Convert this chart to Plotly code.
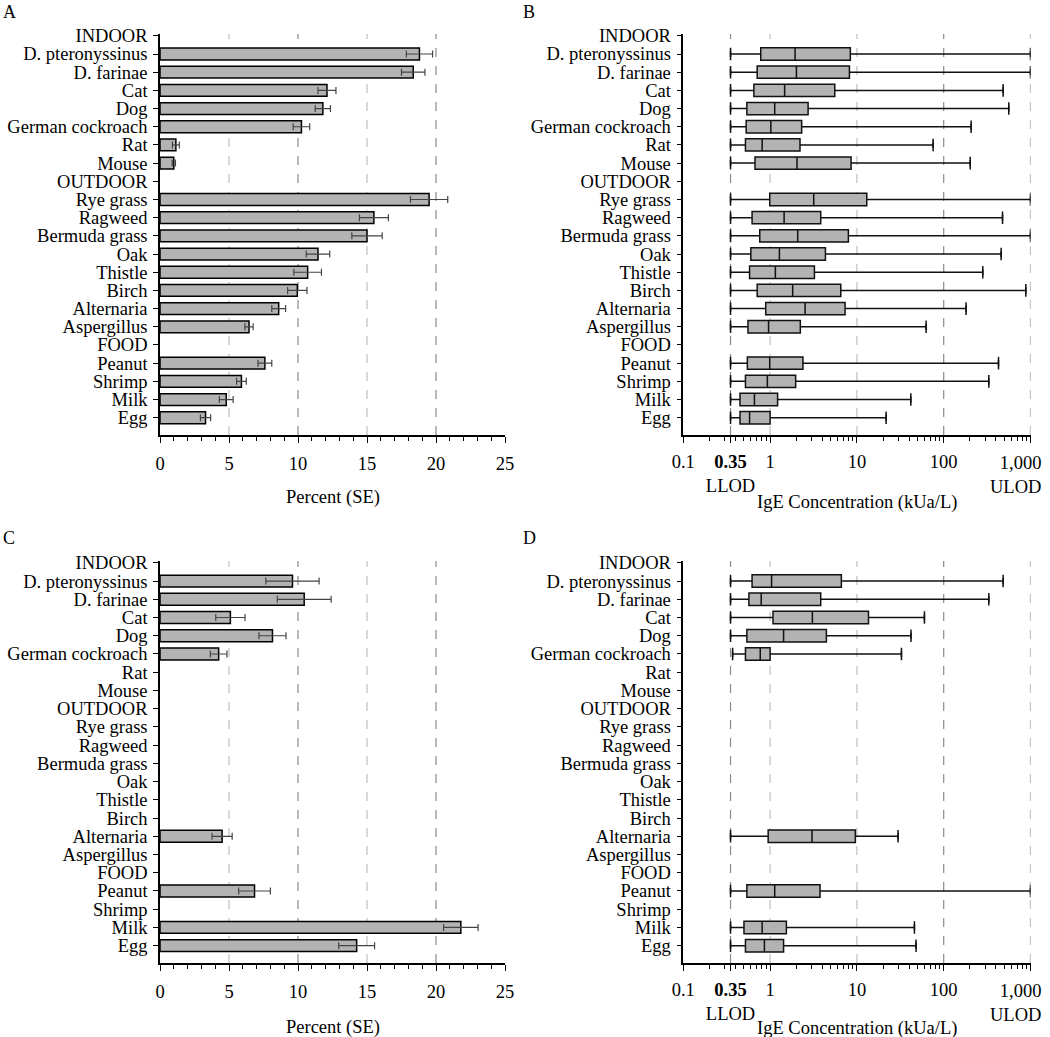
import math
import plotly.graph_objects as go

# ---------------- data ----------------
cats = ["INDOOR", "D. pteronyssinus", "D. farinae", "Cat", "Dog", "German cockroach",
        "Rat", "Mouse", "OUTDOOR", "Rye grass", "Ragweed", "Bermuda grass", "Oak",
        "Thistle", "Birch", "Alternaria", "Aspergillus", "FOOD", "Peanut", "Shrimp",
        "Milk", "Egg"]

allergens = ["D. pteronyssinus", "D. farinae", "Cat", "Dog", "German cockroach", "Rat",
             "Mouse", "Rye grass", "Ragweed", "Bermuda grass", "Oak", "Thistle", "Birch",
             "Alternaria", "Aspergillus", "Peanut", "Shrimp", "Milk", "Egg"]

# Panel A: percent sensitized (SE)
A_pct = [18.8, 18.35, 12.1, 11.8, 10.25, 1.15, 1.0, 19.5, 15.5, 15.0, 11.45, 10.7,
         9.95, 8.6, 6.45, 7.6, 5.9, 4.8, 3.3]
A_se = [0.95, 0.85, 0.65, 0.55, 0.6, 0.25, 0.12, 1.35, 1.05, 1.1, 0.85, 1.0, 0.7,
        0.5, 0.3, 0.5, 0.35, 0.5, 0.37]

# Panel B: IgE concentration distributions
B_lo = [0.35] * 19
B_q1 = [0.78, 0.71, 0.65, 0.54, 0.53, 0.52, 0.67, 0.99, 0.62, 0.76, 0.60, 0.58, 0.71,
        0.89, 0.556, 0.547, 0.52, 0.45, 0.45]
B_med = [1.94, 2.01, 1.47, 1.13, 1.02, 0.81, 2.04, 3.18, 1.45, 2.08, 1.28, 1.15, 1.82,
         2.53, 0.96, 0.99, 0.93, 0.66, 0.58]
B_q3 = [8.4, 8.2, 5.56, 2.74, 2.31, 2.21, 8.57, 13.0, 3.83, 7.98, 4.34, 3.24, 6.52,
        7.31, 2.23, 2.39, 1.97, 1.22, 1.0]
B_hi = [1000, 1000, 484, 562, 207, 75.5, 202, 1000, 476, 1000, 459, 282, 883, 181,
        62.7, 428, 331, 41.8, 21.7]

# Panel C
C_names = ["D. pteronyssinus", "D. farinae", "Cat", "Dog", "German cockroach",
           "Alternaria", "Peanut", "Milk", "Egg"]
C_pct = [9.6, 10.45, 5.1, 8.15, 4.25, 4.5, 6.85, 21.8, 14.25]
C_se = [1.93, 1.95, 1.06, 0.98, 0.6, 0.73, 1.15, 1.25, 1.3]

# Panel D
D_names = ["D. pteronyssinus", "D. farinae", "Cat", "Dog", "German cockroach",
           "Alternaria", "Peanut", "Milk", "Egg"]
D_lo = [0.35, 0.35, 0.35, 0.35, 0.37, 0.35, 0.35, 0.35, 0.35]
D_q1 = [0.62, 0.57, 1.08, 0.54, 0.52, 0.95, 0.54, 0.50, 0.52]
D_med = [1.04, 0.79, 3.07, 1.43, 0.77, 3.04, 1.13, 0.81, 0.86]
D_q3 = [6.62, 3.83, 13.6, 4.45, 1.0, 9.6, 3.76, 1.54, 1.43]
D_hi = [484, 331, 60, 42, 32.6, 29.8, 1000, 46, 48]

pct_ticks = [0, 5, 10, 15, 20, 25]
pct_grid = [5, 10, 15, 20]
pct_grid_colors = ["#c0c0c0", "#8a8a8a", "#c0c0c0", "#8a8a8a"]
ige_ticks = [0.1, 0.35, 1, 10, 100, 1000]
ige_ticktext = ["0.1", "<b>0.35</b><br>LLOD", "1", "10", "100", ""]
ulod_value = 1000
ulod_text = "1,000<br>ULOD"
ige_minor = [0.2, 0.3, 0.4, 0.5, 0.6, 0.7, 0.8, 0.9, 2, 3, 4, 5, 6, 7, 8, 9,
             20, 30, 40, 50, 60, 70, 80, 90, 200, 300, 400, 500, 600, 700, 800, 900]
ige_grid = [0.35, 1, 10, 100, 1000]
ige_grid_colors = ["#8a8a8a", "#c0c0c0", "#c0c0c0", "#8a8a8a", "#8a8a8a"]

pct_title = "Percent (SE)"
ige_title = "IgE Concentration (kUa/L)"

# ---------------- figure ----------------
FONT = "Liberation Serif, Times New Roman, serif"
FS = 18.5
BAR_FILL = "#b3b3b3"

fig = go.Figure()

def add_bars(xa, ya, names, vals, ses):
    fig.add_trace(go.Bar(
        y=names, x=vals, orientation="h", width=0.65,
        marker=dict(color=BAR_FILL, line=dict(color="black", width=1.5)),
        error_x=dict(type="data", array=ses, visible=True, color="#444444",
                     thickness=1.2, width=3.5),
        xaxis=xa, yaxis=ya, showlegend=False))

def add_boxes(xa, ya, names, lo, q1, med, q3, hi):
    fig.add_trace(go.Box(
        y=names, lowerfence=lo, q1=q1, median=med, q3=q3, upperfence=hi,
        orientation="h", width=0.68, boxpoints=False,
        fillcolor=BAR_FILL, line=dict(color="#111111", width=1.5),
        xaxis=xa, yaxis=ya, showlegend=False))
    fig.add_trace(go.Scatter(
        y=names + names, x=lo + hi, mode="markers",
        marker=dict(symbol="line-ns", size=9, line=dict(color="#111111", width=1.5)),
        xaxis=xa, yaxis=ya, showlegend=False, hoverinfo="skip"))

add_bars("x", "y", allergens, A_pct, A_se)
add_boxes("x2", "y2", allergens, B_lo, B_q1, B_med, B_q3, B_hi)
add_bars("x3", "y3", C_names, C_pct, C_se)
add_boxes("x4", "y4", D_names, D_lo, D_q1, D_med, D_q3, D_hi)

H = 1037.0
W = 1050.0
top_dom = [1 - 435 / H, 1 - 34 / H]
bot_dom = [1 - 963 / H, 1 - 561 / H]
left_dom = [160 / W, 505 / W]
right_dom = [683.3 / W, 1030.5 / W]

tickfont = dict(family=FONT, size=FS, color="black")

def yaxis_cfg(domain, anchor):
    return dict(domain=domain, anchor=anchor, type="category",
                categoryorder="array", categoryarray=cats,
                tickmode="linear", tick0=0, dtick=1,
                range=[21.95, -0.1], showline=True, linecolor="black", linewidth=1.5,
                ticks="outside", ticklen=5, tickcolor="black", tickwidth=1.2,
                showgrid=False, zeroline=False, tickfont=tickfont, ticklabelstandoff=2,
                automargin=False)

def pct_axis(domain, anchor):
    return dict(domain=domain, anchor=anchor, range=[0, 25], tickvals=pct_ticks,
                showline=True, linecolor="black", linewidth=1.5,
                ticks="outside", ticklen=6, tickcolor="black", tickwidth=1.2,
                minor=dict(dtick=1, ticks="outside", ticklen=4, tickcolor="black",
                           tickwidth=1),
                showgrid=False, zeroline=False, tickfont=tickfont, ticklabelstandoff=5,
                automargin=False)

def ige_axis(domain, anchor):
    return dict(domain=domain, anchor=anchor, type="log", range=[-1, 3.0],
                tickvals=ige_ticks, ticktext=ige_ticktext,
                showline=True, linecolor="black", linewidth=1.5,
                ticks="outside", ticklen=6, tickcolor="black", tickwidth=1.2,
                minor=dict(tickvals=ige_minor, ticks="outside", ticklen=4,
                           tickcolor="black", tickwidth=1),
                showgrid=False, zeroline=False, tickfont=tickfont, ticklabelstandoff=3,
                automargin=False)

shapes = []
for xa, ya in (("x", "y"), ("x3", "y3")):
    for v, c in zip(pct_grid, pct_grid_colors):
        shapes.append(dict(type="line", xref=xa, yref=ya + " domain", x0=v, x1=v,
                           y0=0, y1=1, layer="below",
                           line=dict(color=c, width=1.2, dash="dash")))
for xa, ya in (("x2", "y2"), ("x4", "y4")):
    for v, c in zip(ige_grid, ige_grid_colors):
        shapes.append(dict(type="line", xref=xa, yref=ya + " domain", x0=v, x1=v,
                           y0=0, y1=1, layer="below",
                           line=dict(color=c, width=1.2, dash="dash")))

annotations = []
for lab, x, y in (("A", 1 / W, 1 - 0 / H), ("B", 521 / W, 1 - 0 / H),
                  ("C", 1 / W, 1 - 526 / H), ("D", 521 / W, 1 - 526 / H)):
    annotations.append(dict(text=lab, x=x, y=y, xref="paper", yref="paper",
                            xanchor="left", yanchor="top", showarrow=False,
                            font=dict(family=FONT, size=18, color="black")))

# axis titles
for txt, dom, ypx in ((pct_title, left_dom, 497), (ige_title, right_dom, 502),
                      (pct_title, left_dom, 1027), (ige_title, right_dom, 1028)):
    annotations.append(dict(text=txt, x=(dom[0] + dom[1]) / 2, y=1 - ypx / H,
                            xref="paper", yref="paper", xanchor="center",
                            yanchor="middle", showarrow=False,
                            font=dict(family=FONT, size=FS, color="black")))

# upper limit of detection label (right-aligned at the last tick)
for xa, ya in (("x2", "y2"), ("x4", "y4")):
    annotations.append(dict(text=ulod_text, x=math.log10(ulod_value), xref=xa,
                            y=0, yref=ya + " domain", xanchor="right", yanchor="top",
                            align="right", xshift=11, yshift=-17, showarrow=False,
                            borderpad=0,
                            font=dict(family=FONT, size=FS, color="black")))

fig.update_layout(
    width=1050, height=1037,
    margin=dict(l=0, r=0, t=0, b=0, autoexpand=False),
    paper_bgcolor="white", plot_bgcolor="white",
    font=dict(family=FONT, size=FS, color="black"),
    xaxis=pct_axis(left_dom, "y"),
    yaxis=yaxis_cfg(top_dom, "x"),
    xaxis2=ige_axis(right_dom, "y2"),
    yaxis2=yaxis_cfg(top_dom, "x2"),
    xaxis3=pct_axis(left_dom, "y3"),
    yaxis3=yaxis_cfg(bot_dom, "x3"),
    xaxis4=ige_axis(right_dom, "y4"),
    yaxis4=yaxis_cfg(bot_dom, "x4"),
    shapes=shapes,
    annotations=annotations,
    bargap=0.35,
)

fig.write_html("out.html", config={"displayModeBar": False},
               post_script="document.body.style.margin='0px';")
